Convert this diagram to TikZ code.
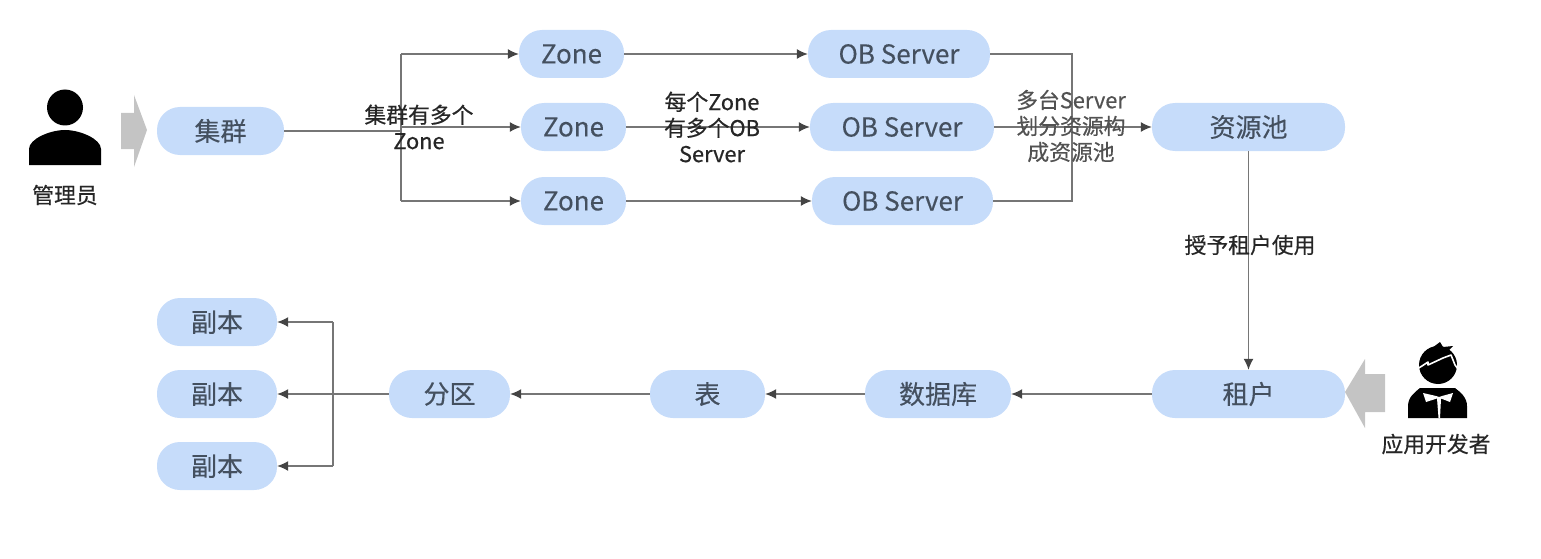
\documentclass[tikz,border=0pt]{standalone}
\usepackage{fontspec}
\setmainfont{Noto Sans CJK SC}
\newfontfamily\pillfont[FakeBold=0.25]{Noto Sans CJK SC}
\newfontfamily\notefont[FakeBold=0.5]{Noto Sans CJK SC}
\usepackage{xcolor}
\usetikzlibrary{calc, positioning, arrows.meta}

\definecolor{pillblue}{HTML}{C6DCFA}
\definecolor{pilltext}{HTML}{44505F}
\definecolor{linegray}{HTML}{767676}
\definecolor{tipgray}{HTML}{444444}
\definecolor{blockgray}{HTML}{C4C4C4}

\tikzset{
    pill/.style={fill=pillblue, rounded corners=23pt, minimum height=48pt, inner sep=0pt,
        text=pilltext, font=\pillfont\fontsize{26}{30}\selectfont},
    note/.style={align=center, text=black!85, inner sep=0pt, font=\notefont\fontsize{21.8}{26}\selectfont},
    link/.style={draw=linegray, line width=1.3pt},
    flow/.style={link, -{Latex[length=11pt, width=10pt, color=tipgray]}},
    block/.style={fill=blockgray}
}

\begin{document}
\begin{tikzpicture}[x=1pt, y=-1pt]
    \useasboundingbox (0,0) rectangle (1541,559);

    % 上排节点
    \node[pill, minimum width=127pt] (cluster) at (220.5,131) {集群};
    \node[pill, minimum width=105pt] (zoneA) at (571.5,54) {Zone};
    \node[pill, minimum width=105pt] (zoneB) at (573.5,127) {Zone};
    \node[pill, minimum width=105pt] (zoneC) at (573.5,201) {Zone};
    \node[pill, minimum width=182pt] (serverA) at (899,54) {OB Server};
    \node[pill, minimum width=184pt] (serverB) at (902,127) {OB Server};
    \node[pill, minimum width=181pt] (serverC) at (902.5,201) {OB Server};
    \node[pill, minimum width=193pt] (pool) at (1248.5,127) {资源池};

    % 下排节点
    \node[pill, minimum width=193pt] (tenant) at (1248.5,394) {租户};
    \node[pill, minimum width=146pt] (database) at (938,394) {数据库};
    \node[pill, minimum width=115pt] (table) at (707.5,394) {表};
    \node[pill, minimum width=121pt] (partition) at (449.5,394) {分区};
    \node[pill, minimum width=120pt] (replicaA) at (217,322) {副本};
    \node[pill, minimum width=120pt] (replicaB) at (217,394) {副本};
    \node[pill, minimum width=120pt] (replicaC) at (217,466) {副本};

    % 汇流线的转折点
    \coordinate (splitIn) at (401,131);
    \coordinate (splitOut) at (401,127);
    \coordinate (splitTop) at (401,54);
    \coordinate (splitBot) at (401,201);
    \coordinate (joinTop) at (1072,54);
    \coordinate (joinBot) at (1072,201);
    \coordinate (fanTop) at (333,322);
    \coordinate (fanBot) at (333,466);

    % 集群到 Zone 再到 OB Server
    \draw[link] (cluster.east) -- (splitIn);
    \draw[flow] (splitOut) -- (zoneB.west);
    \draw[flow] (splitTop) -- (zoneA.west);
    \draw[flow] (splitBot) -- (zoneC.west);
    \draw[link] (splitTop) -- (splitBot);
    \draw[flow] (zoneA.east) -- (serverA.west);
    \draw[flow] (zoneB.east) -- (serverB.west);
    \draw[flow] (zoneC.east) -- (serverC.west);

    % OB Server 汇入资源池
    \draw[link] (serverA.east) -- (joinTop) -- (joinBot) -- (serverC.east);
    \draw[flow] (serverB.east) -- (pool.west);

    % 资源池往下到副本
    \draw[flow] (pool.south) -- (tenant.north);
    \draw[flow] (tenant.west) -- (database.east);
    \draw[flow] (database.west) -- (table.east);
    \draw[flow] (table.west) -- (partition.east);
    \draw[flow] (partition.west) -- (replicaB.east);
    \draw[link] (fanTop) -- (fanBot);
    \draw[flow] (fanTop) -- (replicaA.east);
    \draw[flow] (fanBot) -- (replicaC.east);

    % 说明文字
    \node[note] (noteZone) at (419,127) {集群有多个\\Zone};
    \node[note] (noteServer) at (712,127) {每个Zone\\有多个OB\\Server};
    \node[note, text=black!68] (notePool) at (1071,126) {多台Server\\划分资源构\\成资源池};
    \node[note] (noteGrant) at (1250,245) {授予租户使用};
    \node[note] (admin) at (65,195) {管理员};
    \node[note] (developer) at (1436,444) {应用开发者};

    % 灰色粗箭头
    \fill[block] (121,113) -- (134,113) -- (134,95) -- (147,130) -- (134,167) -- (134,149) -- (121,149) -- cycle;
    \fill[block] (1385,374) -- (1365,374) -- (1365,359) -- (1345,392) -- (1365,428) -- (1365,412) -- (1385,412) -- cycle;

    % 管理员图标
    \fill[black] (65,107.5) circle (18);
    \fill[black] (29,165) -- (29,149) .. controls (29,139) and (50,130) .. (65,130)
        .. controls (80,130) and (101,139) .. (101,149) -- (101,165) -- cycle;

    % 开发者图标
    \fill[black] (1438,365) circle (19);
    \fill[black] (1432,348) -- (1440,342) -- (1443,347) -- (1453,346) -- (1448,351) -- (1452,356) -- cycle;
    \draw[white, line width=1.6pt, line join=round] (1417,369) -- (1422,366) -- (1428,362) -- (1428,365)
        -- (1443,358) -- (1451,355) -- (1455,365) -- (1458,369);
    \fill[black] (1408,418) -- (1408,406) .. controls (1408,397) and (1415,392) .. (1420,388)
        -- (1455,388) .. controls (1460,392) and (1467,397) .. (1467,406) -- (1467,418) -- cycle;
    \fill[white] (1423,393) -- (1436,396) -- (1439,397) -- (1442,396) -- (1453,393) -- (1450,402)
        -- (1441,398.5) -- (1440,418) -- (1438.5,418) -- (1437,398.5) -- (1426,402) -- cycle;
\end{tikzpicture}
\end{document}
